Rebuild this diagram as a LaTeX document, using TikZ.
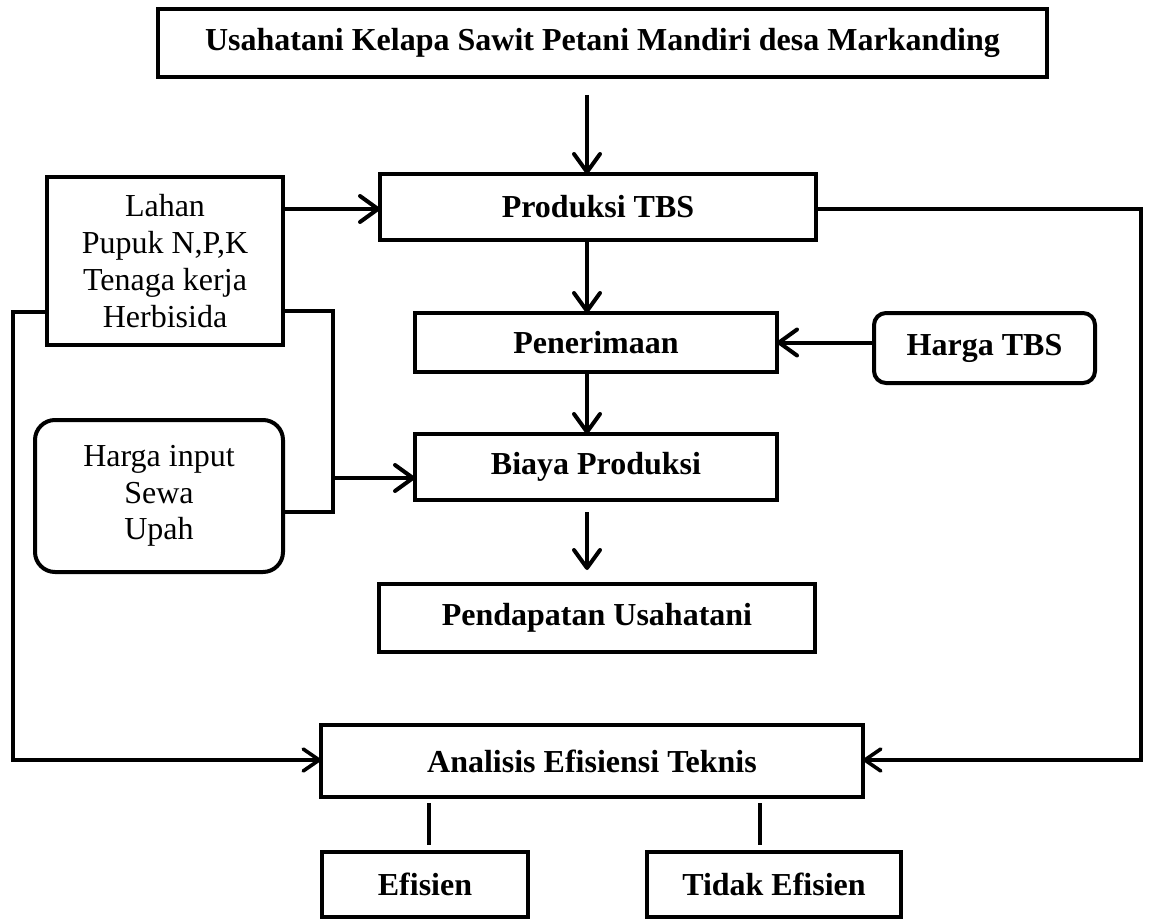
\documentclass[tikz,border=0pt]{standalone}
\usepackage{fontspec}
\setmainfont{Liberation Serif}
\usetikzlibrary{arrows.meta}
\begin{document}
\begin{tikzpicture}[x=0.5pt,y=-0.5pt,
  base/.style={draw, line width=2pt, align=center, inner sep=0pt, outer sep=0pt},
  box/.style={base, font=\fontsize{16}{18.4}\selectfont\bfseries},
  plainbox/.style={base, font=\fontsize{16}{18.4}\selectfont},
  arr/.style={line width=2pt, -{Straight Barb[length=9pt,width=13pt,round]}},
  thinarr/.style={line width=1.8pt, -{Straight Barb[length=8pt,width=11pt,round]}},
  conn/.style={line width=2pt},
  tick/.style={line width=2.4pt}]
\useasboundingbox (0,0) rectangle (1150,920);
% boxes
\node[box, minimum width=444.5pt, minimum height=34pt] (top) at (602.5,43) {Usahatani Kelapa Sawit Petani Mandiri desa Markanding};
\node[box, minimum width=218pt, minimum height=33pt] (prod) at (598,207) {Produksi TBS};
\node[plainbox, minimum width=118pt, minimum height=84pt] (lahan) at (165,261) {Lahan\\Pupuk N,P,K\\Tenaga kerja\\Herbisida};
\node[box, minimum width=181pt, minimum height=29.5pt] (pen) at (596,342.5) {Penerimaan};
\node[box, rounded corners=6pt, minimum width=110.5pt, minimum height=35pt] (htbs) at (984.5,348) {Harga TBS};
\node[box, minimum width=181pt, minimum height=33pt] (biaya) at (596,467) {Biaya Produksi};
\node[plainbox, rounded corners=10pt, minimum width=124pt, minimum height=76pt] (hin) at (159,496) {Harga input\\Sewa\\Upah};
\node[box, minimum width=218pt, minimum height=34pt] (pend) at (597,618) {Pendapatan Usahatani};
\node[box, minimum width=271pt, minimum height=36pt] (anal) at (592,761) {Analisis Efisiensi Teknis};
\node[box, minimum width=103pt, minimum height=32.5pt] (efis) at (425,884.5) {Efisien};
\node[box, minimum width=127pt, minimum height=32.5pt] (tidak) at (774,884.5) {Tidak Efisien};
% coordinates
\coordinate (a1) at (587,95);
\coordinate (a2) at (587,512);
\coordinate (a3) at (587,570);
\coordinate (j1) at (333,311);
\coordinate (j2) at (333,512);
\coordinate (j3) at (333,478);
\coordinate (l1) at (13,312);
\coordinate (l2) at (13,760);
\coordinate (r1) at (1141,209);
\coordinate (r2) at (1141,760);
\coordinate (v1) at (429,803);
\coordinate (v2) at (429,845);
\coordinate (w1) at (760,803);
\coordinate (w2) at (760,845);
% connectors
\draw[arr] (a1) -- (a1 |- prod.north);
\draw[arr] (lahan.east |- 0,209) -- (prod.west |- 0,209);
\draw[arr] (prod.south -| a1) -- (pen.north -| a1);
\draw[arr] (htbs.west |- pen.east) -- (pen.east);
\draw[arr] (pen.south -| a1) -- (biaya.north -| a1);
\draw[arr] (a2) -- (a3);
\draw[conn] (lahan.east |- j1) -- (j1) -- (j2) -- (hin.east |- j2);
\draw[arr] (j3) -- (biaya.west |- j3);
\draw[thinarr] (lahan.west |- l1) -- (l1) -- (l2) -- (anal.west |- l2);
\draw[thinarr] (prod.east |- r1) -- (r1) -- (r2) -- (anal.east |- r2);
\draw[tick] (v1) -- (v2);
\draw[tick] (w1) -- (w2);
\end{tikzpicture}
\end{document}
